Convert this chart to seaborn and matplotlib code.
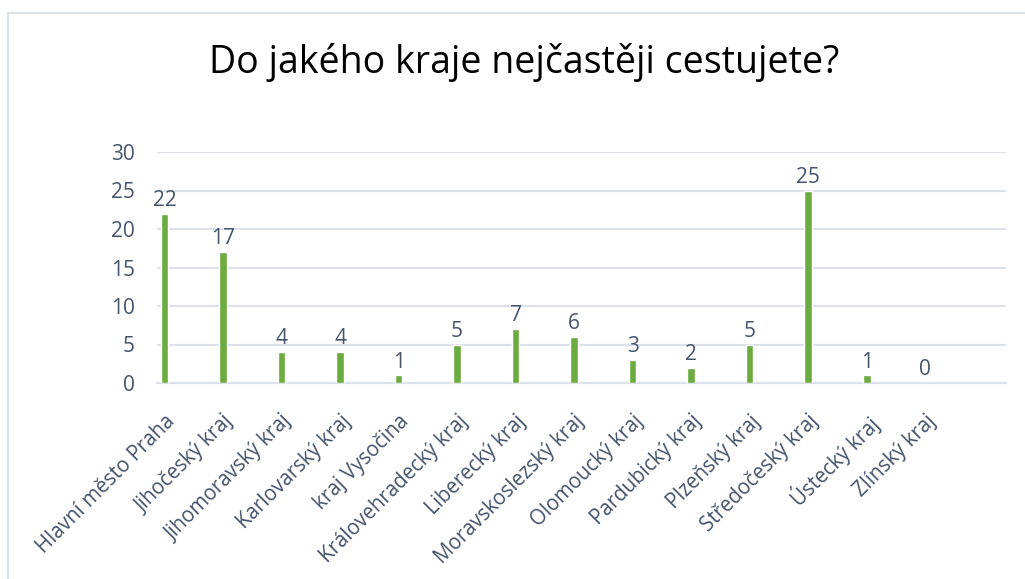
import matplotlib
matplotlib.use("Agg")
import matplotlib.pyplot as plt
from matplotlib.patches import Rectangle
import seaborn as sns
import pandas as pd

kraje = ["Hlavní město Praha", "Jihočeský kraj", "Jihomoravský kraj", "Karlovarský kraj",
         "kraj Vysočina", "Královehradecký kraj", "Liberecký kraj", "Moravskoslezský kraj",
         "Olomoucký kraj", "Pardubický kraj", "Plzeňský kraj", "Středočeský kraj",
         "Ústecký kraj", "Zlínský kraj"]
pocty = [22, 17, 4, 4, 1, 5, 7, 6, 3, 2, 5, 25, 1, 0]
y_ticks = [0, 5, 10, 15, 20, 25, 30]

text_color = "#44546A"
grid_color = "#dde2ea"
bar_color = "#6cab3f"

sns.set_theme(style="white")
plt.rcParams["font.family"] = ["Open Sans", "DejaVu Sans"]

df = pd.DataFrame({"kraj": kraje, "pocet": pocty})

fig = plt.figure(figsize=(10.25, 5.79), dpi=100)
ax = fig.add_axes([157 / 1025, 1 - 383 / 579, (1006 - 157) / 1025, (383 - 152) / 579])

sns.barplot(data=df, x="kraj", y="pocet", color=bar_color, width=0.13,
            saturation=1, ax=ax, zorder=3)

ax.set_ylim(0, 30)
ax.set_xlim(-0.128, 14.38)
ax.set_yticks(y_ticks)
ax.yaxis.grid(True, color=grid_color, linewidth=1.5, zorder=0)
ax.set_axisbelow(True)
for s in ["top", "right", "left"]:
    ax.spines[s].set_visible(False)
ax.spines["bottom"].set_color(grid_color)
ax.spines["bottom"].set_linewidth(1.5)
ax.set_xlabel("")
ax.set_ylabel("")
ax.tick_params(axis="y", length=0, pad=16, labelsize=15, labelcolor=text_color)
ax.tick_params(axis="x", length=0, pad=20, labelsize=14.8, labelcolor=text_color)
ax.set_xticks(range(len(kraje)))
ax.set_xticklabels(kraje, rotation=45, ha="right", rotation_mode="anchor")

ax.bar_label(ax.containers[0], labels=[str(v) for v in pocty], padding=2,
             fontsize=15, color=text_color)

fig.text(0.511, 1 - 62 / 579, "Do jakého kraje nejčastěji cestujete?", ha="center",
         va="center", fontsize=27, color="black")

fig.patches.append(Rectangle((8 / 1025, -0.1), 1.2, 1.1 - 13 / 579,
                             transform=fig.transFigure, fill=False,
                             edgecolor=grid_color, linewidth=1.5))

fig.savefig("out.png", dpi=100)
